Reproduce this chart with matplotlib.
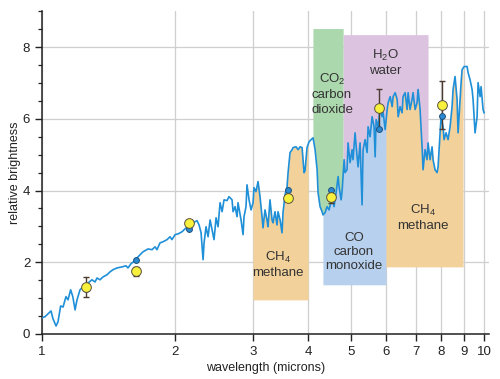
'''Spectrum with molecular absorption bands'''
import numpy as np
import matplotlib.pyplot as plt

plt.rcParams['font.family'] = ['Liberation Sans', 'DejaVu Sans']
plt.rcParams['mathtext.fontset'] = 'custom'
plt.rcParams['mathtext.rm'] = 'Liberation Sans'
plt.rcParams['mathtext.it'] = 'Liberation Sans'
plt.rcParams['mathtext.default'] = 'regular'

# model spectrum
wavelength = [
    1.00, 1.016, 1.048, 1.059, 1.076, 1.087, 1.102, 1.116, 1.133, 1.145,
    1.161, 1.174, 1.188, 1.200, 1.219, 1.238, 1.271, 1.297, 1.318, 1.332,
    1.353, 1.374, 1.403, 1.425, 1.447, 1.478, 1.517, 1.549, 1.565, 1.590,
    1.623, 1.640, 1.692, 1.737, 1.774, 1.802, 1.820, 1.849, 1.878, 1.918,
    1.948, 1.968, 2.000, 2.031, 2.074, 2.106, 2.139, 2.184, 2.219, 2.242,
    2.266, 2.290, 2.314, 2.326, 2.350, 2.375, 2.400, 2.425, 2.450, 2.476,
    2.502, 2.528, 2.555, 2.581, 2.622, 2.649, 2.691, 2.705, 2.733, 2.762,
    2.776, 2.820, 2.850, 2.864, 2.894, 2.909, 2.940, 2.971, 3.002, 3.017,
    3.049, 3.081, 3.113, 3.146, 3.162, 3.195, 3.228, 3.245, 3.279, 3.314,
    3.331, 3.366, 3.401, 3.419, 3.456, 3.491, 3.509, 3.546, 3.584, 3.603,
    3.640, 3.679, 3.698, 3.756, 3.796, 3.835, 3.875, 3.916, 3.936, 3.977,
    4.019, 4.061, 4.104, 4.147, 4.191, 4.212, 4.256, 4.300, 4.323, 4.368,
    4.414, 4.460, 4.531, 4.578, 4.627, 4.675, 4.699, 4.749, 4.773, 4.824,
    4.849, 4.898, 4.924, 4.976, 5.028, 5.054, 5.107, 5.161, 5.188, 5.242,
    5.297, 5.325, 5.381, 5.437, 5.466, 5.523, 5.581, 5.639, 5.670, 5.700,
    5.760, 5.820, 5.880, 5.912, 5.974, 6.036, 6.068, 6.132, 6.196, 6.228,
    6.293, 6.359, 6.393, 6.457, 6.525, 6.558, 6.628, 6.697, 6.732, 6.802,
    6.873, 6.909, 6.982, 7.055, 7.091, 7.166, 7.240, 7.278, 7.354, 7.431,
    7.470, 7.548, 7.627, 7.667, 7.747, 7.829, 7.869, 7.952, 7.993, 8.077,
    8.119, 8.204, 8.290, 8.377, 8.465, 8.509, 8.597, 8.688, 8.734, 8.779,
    8.872, 8.918, 9.012, 9.153, 9.201, 9.297, 9.395, 9.443, 9.541, 9.643,
    9.692, 9.795, 9.845, 9.948, 10.0,
]
brightness = [
    0.45, 0.48, 0.64, 0.42, 0.22, 0.34, 0.78, 0.75, 1.04, 0.95,
    1.23, 1.04, 0.67, 0.95, 1.23, 1.31, 1.42, 1.51, 1.45, 1.56,
    1.51, 1.59, 1.65, 1.73, 1.79, 1.84, 1.87, 1.90, 1.84, 1.96,
    2.04, 2.12, 2.29, 2.37, 2.35, 2.43, 2.35, 2.54, 2.57, 2.63,
    2.71, 2.63, 2.77, 2.79, 2.85, 2.93, 2.99, 3.07, 3.13, 3.16,
    3.04, 2.82, 2.07, 2.54, 2.99, 2.71, 3.18, 2.90, 2.63, 3.24,
    2.99, 3.66, 3.41, 3.74, 3.72, 3.83, 3.74, 3.41, 3.55, 3.27,
    3.66, 3.18, 2.77, 3.27, 3.55, 4.16, 3.74, 3.46, 3.66, 4.08,
    3.97, 4.25, 3.83, 3.27, 2.96, 3.46, 3.18, 2.99, 3.74, 3.18,
    3.10, 3.41, 3.04, 3.41, 3.18, 2.82, 3.38, 3.88, 4.11, 4.50,
    5.06, 5.14, 5.20, 5.22, 5.14, 5.22, 5.20, 4.50, 4.55, 5.20,
    5.36, 5.42, 5.47, 5.14, 4.58, 3.94, 3.55, 3.41, 3.32, 3.38,
    3.55, 3.46, 3.80, 3.55, 3.94, 4.39, 4.11, 3.74, 3.97, 4.86,
    4.50, 4.58, 5.33, 4.78, 5.14, 4.86, 5.61, 4.94, 4.66, 5.33,
    3.60, 5.14, 5.42, 5.06, 5.78, 5.50, 6.06, 5.78, 4.94, 5.98,
    5.78, 6.31, 6.06, 6.17, 5.70, 6.26, 6.45, 6.62, 6.34, 6.62,
    6.73, 6.54, 6.06, 6.34, 6.17, 6.62, 6.73, 6.26, 6.73, 6.26,
    6.54, 6.73, 6.26, 6.45, 6.82, 6.26, 5.22, 4.58, 5.14, 4.86,
    5.33, 4.86, 5.22, 4.86, 4.58, 4.50, 4.66, 5.61, 6.06, 5.78,
    5.42, 5.61, 5.42, 5.78, 6.34, 6.82, 7.18, 6.54, 5.61, 6.06,
    7.01, 7.37, 7.46, 7.46, 7.29, 7.09, 6.82, 6.54, 5.61, 6.06,
    7.01, 6.62, 6.90, 6.26, 6.17,
]

# measurements (yellow) and model binned (blue)
obs_wl = [1.257, 1.63, 2.15, 3.6, 4.5, 5.79, 8.03]
obs_val = [1.31, 1.76, 3.10, 3.79, 3.82, 6.30, 6.39]
err_lo = [0.28, 0.14, 0.08, 0.0, 0.16, 0.58, 0.67]
err_hi = [0.28, 0.12, 0.08, 0.0, 0.0, 0.54, 0.67]
model_val = [1.25, 2.06, 2.93, 4.02, 4.02, 5.72, 6.07]

# absorption bands
band_labels = ['CH$_4$\nmethane', 'CO\ncarbon\nmonoxide', 'CH$_4$\nmethane',
               'CO$_2$\ncarbon\ndioxide', 'H$_2$O\nwater']
band_x0 = [3.0, 4.32, 6.0, 4.10, 4.80]
band_x1 = [4.0, 6.0, 8.96, 4.80, 7.47]
band_limit = [0.95, 1.37, 1.87, 8.52, 8.35]
band_below = [True, True, True, False, False]
band_colors = ['#f2d19b', '#b7d0ee', '#f2d19b', '#acd8ad', '#dcc4e0']
label_x = [3.42, 5.08, 7.28, 4.53, 5.97]
label_y = [1.93, 2.29, 3.25, 6.70, 7.58]

fig, ax = plt.subplots(figsize=(5.0, 3.79), dpi=100)
fig.subplots_adjust(left=0.084, right=0.978, bottom=0.119, top=0.972)

logw = np.log10(wavelength)
for lab, x0, x1, lim, below, col, lx, ly in zip(band_labels, band_x0, band_x1,
                                                 band_limit, band_below,
                                                 band_colors, label_x, label_y):
    xs = np.geomspace(x0, x1, 600)
    ys = np.interp(np.log10(xs), logw, brightness)
    if below:
        ax.fill_between(xs, lim, ys, color=col, lw=0, zorder=1)
    else:
        ax.fill_between(xs, ys, lim, color=col, lw=0, zorder=1)
    ax.text(lx, ly, lab, ha='center', va='center', fontsize=9.5,
            color='#333333', linespacing=1.25, zorder=2)

ax.plot(wavelength, brightness, color='#1f8fd8', lw=1.2, zorder=3)

ax.errorbar(obs_wl, obs_val, yerr=[err_lo, err_hi], fmt='none',
            ecolor='#4a3a30', elinewidth=1, capsize=2.5, capthick=1, zorder=4)
ax.plot(obs_wl, model_val, 'o', ms=4.2, mfc='#2a8ad2', mec='#1d4f7a',
        mew=0.7, zorder=5)
ax.plot(obs_wl, obs_val, 'o', ms=7, mfc='#f7f03c', mec='#5a5040',
        mew=0.7, zorder=6)

ax.set_xscale('log')
ax.set_xlim(1, 10.26)
ax.set_ylim(0, 9.02)
xt = [1, 2, 3, 4, 5, 6, 7, 8, 9, 10]
ax.set_xticks(xt)
ax.set_xticklabels([str(v) for v in xt])
ax.xaxis.set_minor_locator(plt.NullLocator())
ax.set_yticks([0, 2, 4, 6, 8])
ax.set_yticks(np.arange(0, 9.01, 0.5), minor=True)

ax.grid(True, which='major', color='#cfcfcf', lw=0.9, zorder=0)
ax.set_axisbelow(True)
for s in ['top', 'right']:
    ax.spines[s].set_visible(False)
for s in ['left', 'bottom']:
    ax.spines[s].set_color('#222222')
    ax.spines[s].set_linewidth(1.1)
ax.tick_params(which='major', length=5, width=1, color='#222222',
               labelsize=9.5, labelcolor='#222222')
ax.tick_params(which='minor', length=3, width=0.9, color='#222222')

ax.set_xlabel('wavelength (microns)', fontsize=9, color='#222222', labelpad=3)
ax.set_ylabel('relative brightness', fontsize=9, color='#222222', labelpad=1)

plt.savefig('out.png', dpi=100)
